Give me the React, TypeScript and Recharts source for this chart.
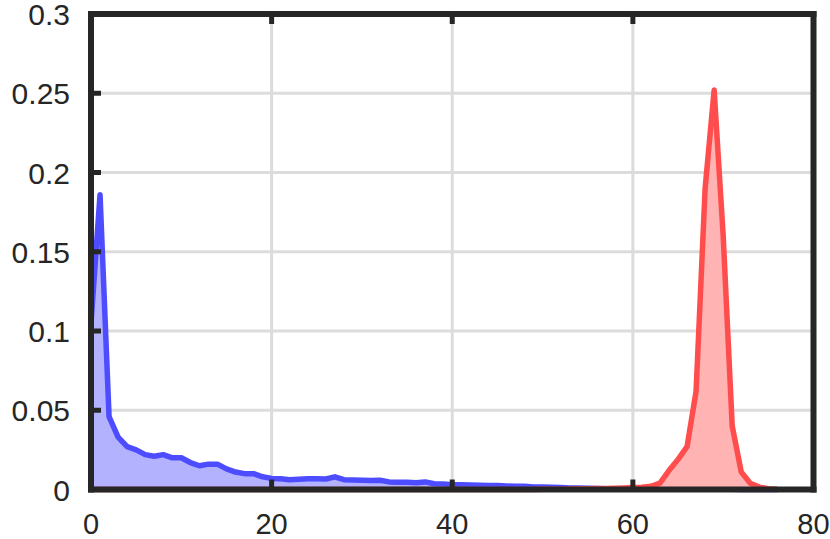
import React from 'react';
import { ComposedChart, Area, XAxis, YAxis, CartesianGrid } from 'recharts';

const xValues: number[] = Array.from({ length: 77 }, (_, i) => i);

const blueValues: number[] = [
  0.105, 0.186, 0.046, 0.033, 0.027, 0.025, 0.022, 0.021, 0.022, 0.02,
  0.02, 0.017, 0.015, 0.016, 0.016, 0.013, 0.011, 0.01, 0.01, 0.008,
  0.007, 0.0068, 0.0062, 0.0065, 0.0068, 0.0068, 0.0066, 0.008, 0.0062, 0.006,
  0.0058, 0.0057, 0.0058, 0.0048, 0.0046, 0.0045, 0.0042, 0.0048, 0.0036, 0.0034,
  0.003, 0.003, 0.0028, 0.0027, 0.0025, 0.0025, 0.0022, 0.002, 0.002, 0.0016,
  0.0015, 0.0014, 0.0012, 0.001, 0.0009, 0.0008, 0.0006, 0.0005, 0.0004, 0.0003,
  0.0003, 0.0002, 0.0002, 0.0002, 0.0002, 0.0001, 0.0001, 0.0001, 0.0001, 0.0001,
  0.0001, 0.0001, 0, 0, 0, 0, 0,
];

const redValues: number[] = [
  0, 0, 0, 0, 0, 0, 0, 0, 0, 0,
  0, 0, 0, 0, 0, 0, 0, 0, 0, 0,
  0, 0, 0, 0, 0, 0, 0, 0, 0, 0,
  0, 0, 0, 0, 0, 0, 0, 0, 0, 0,
  0, 0, 0, 0, 0, 0, 0, 0, 0, 0,
  0.0001, 0.0002, 0.0002, 0.0003, 0.0004, 0.0005, 0.0006, 0.0007, 0.0008, 0.001,
  0.0012, 0.0015, 0.002, 0.004, 0.012, 0.019, 0.027, 0.062, 0.19, 0.252,
  0.16, 0.04, 0.011, 0.004, 0.0015, 0.0005, 0,
];

const xTicks: number[] = [0, 20, 40, 60, 80];
const yTicks: number[] = [0, 0.05, 0.1, 0.15, 0.2, 0.25, 0.3];

const data = xValues.map((x, i) => ({ x, blue: blueValues[i], red: redValues[i] }));

const FRAME = '#262626';
const FONT = '"Liberation Sans", Arial, Helvetica, sans-serif';
const TICK_LEN = 10;

const BottomTick = (props: any) => {
  const { x, y, payload } = props;
  return (
    <g>
      <line x1={x} y1={y} x2={x} y2={y - TICK_LEN} stroke={FRAME} strokeWidth={5} />
      <text x={x} y={y + 44} textAnchor="middle" fontFamily={FONT} fontSize={29} fill={FRAME}>
        {String(payload.value)}
      </text>
    </g>
  );
};

const LeftTick = (props: any) => {
  const { x, y, payload } = props;
  return (
    <g>
      <line x1={x} y1={y} x2={x + TICK_LEN} y2={y} stroke={FRAME} strokeWidth={5} />
      <text x={x - 21} y={y + 11} textAnchor="end" fontFamily={FONT} fontSize={30} fill={FRAME}>
        {String(payload.value)}
      </text>
    </g>
  );
};

const TopTick = (props: any) => {
  const { x, y } = props;
  return <line x1={x} y1={y} x2={x} y2={y + TICK_LEN} stroke={FRAME} strokeWidth={5} />;
};

const RightTick = (props: any) => {
  const { x, y } = props;
  return <line x1={x} y1={y} x2={x - TICK_LEN} y2={y} stroke={FRAME} strokeWidth={5} />;
};

const axisLineStyle = { stroke: FRAME, strokeWidth: 6, strokeLinecap: 'square' as const };

export default function App() {
  return (
    <div style={{ position: 'absolute', left: 0, top: 0, width: 830, height: 539, background: '#fff' }}>
      <ComposedChart
        width={830}
        height={539}
        data={data}
        margin={{ top: 0, right: 0, left: 0, bottom: 0 }}
      >
        <CartesianGrid stroke="#dcdcdc" strokeWidth={3} />
        <Area
          type="linear"
          dataKey="blue"
          stroke="#4d4dff"
          strokeWidth={5.5}
          strokeLinejoin="round"
          fill="#b2b2ff"
          fillOpacity={1}
          isAnimationActive={false}
          dot={false}
          activeDot={false}
        />
        <Area
          type="linear"
          dataKey="red"
          stroke="#ff4d4d"
          strokeWidth={5.5}
          strokeLinejoin="round"
          fill="#ffb3b3"
          fillOpacity={1}
          isAnimationActive={false}
          dot={false}
          activeDot={false}
        />
        <XAxis
          dataKey="x"
          type="number"
          domain={[0, 80]}
          ticks={xTicks}
          height={49.5}
          tickSize={0}
          tickMargin={0}
          tickLine={false}
          axisLine={axisLineStyle}
          tick={<BottomTick />}
          interval={0}
        />
        <XAxis
          xAxisId="top"
          orientation="top"
          dataKey="x"
          type="number"
          domain={[0, 80]}
          ticks={xTicks}
          height={14}
          tickSize={0}
          tickMargin={0}
          tickLine={false}
          axisLine={axisLineStyle}
          tick={<TopTick />}
          interval={0}
        />
        <YAxis
          type="number"
          domain={[0, 0.3]}
          ticks={yTicks}
          width={91}
          tickSize={0}
          tickMargin={0}
          tickLine={false}
          axisLine={axisLineStyle}
          tick={<LeftTick />}
          interval={0}
        />
        <YAxis
          yAxisId="right"
          orientation="right"
          type="number"
          domain={[0, 0.3]}
          ticks={yTicks}
          width={16.5}
          tickSize={0}
          tickMargin={0}
          tickLine={false}
          axisLine={axisLineStyle}
          tick={<RightTick />}
          interval={0}
        />
      </ComposedChart>
    </div>
  );
}
